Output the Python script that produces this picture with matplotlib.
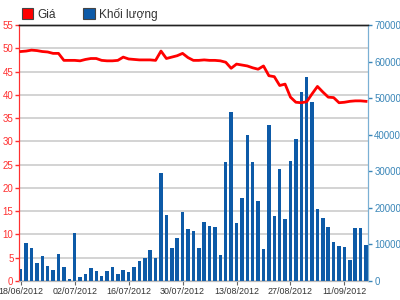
import numpy as np
import matplotlib
matplotlib.use('Agg')
import matplotlib.pyplot as plt
from matplotlib.patches import Patch

plt.rcParams['font.family'] = ['Liberation Sans', 'DejaVu Sans']

# ---- data ----
ngay = ['18/06/2012', '02/07/2012', '16/07/2012', '30/07/2012',
        '13/08/2012', '27/08/2012', '11/09/2012']

khoi_luong = [3390, 10310, 8910, 5030, 6750, 4070, 3050, 7250, 3820, 510,
              13110, 1150, 2040, 3690, 2800, 1460, 2800, 3950, 2040, 3050,
              2550, 3950, 5350, 6240, 8400, 6240, 29650, 18070, 8910, 11840,
              18960, 14250, 13670, 8940, 16040, 14940, 14670, 7100, 32620, 46300,
              15770, 22600, 39830, 32620, 21960, 8750, 42650, 17770, 30620, 16950,
              32900, 38740, 51760, 55690, 49030, 19690, 17220, 14670, 10750, 9570,
              9210, 5650, 14400, 14400, 9840]

gia = [49.3, 49.4, 49.6, 49.5, 49.3, 49.2, 48.9, 48.9, 47.4, 47.4,
       47.4, 47.3, 47.6, 47.8, 47.8, 47.4, 47.3, 47.3, 47.4, 48.1,
       47.7, 47.6, 47.5, 47.5, 47.5, 47.4, 49.4, 47.8, 48.1, 48.4,
       48.9, 48.0, 47.4, 47.4, 47.5, 47.4, 47.4, 47.3, 47.0, 45.7,
       46.6, 46.4, 46.2, 45.8, 45.5, 46.2, 44.1, 43.9, 42.0, 42.3,
       39.5, 38.4, 38.3, 38.5, 40.2, 41.8, 40.6, 39.5, 39.4, 38.3,
       38.4, 38.6, 38.7, 38.7, 38.6]

gia_ticks = np.arange(0, 56, 5)
kl_ticks = np.arange(0, 70001, 10000)

x = np.arange(len(gia))
do = '#ff0000'
xanh = '#0d5aa7'

fig = plt.figure(figsize=(4, 3), dpi=100)
ax = fig.add_axes([0.0475, 0.0633, 0.8725, 0.8534])
ax2 = ax.twinx()

# grid on the lower axes, bars and line on the upper one
ax.set_ylim(0, 55)
ax.set_yticks(gia_ticks)
ax.grid(axis='y', color='#d0d0d0', lw=1.3)
ax.set_axisbelow(True)

ax2.bar(x, khoi_luong, width=0.65, color=xanh, zorder=2)
ax2.plot(x, gia, color=do, lw=2.0, zorder=3, transform=ax.transData,
         solid_joinstyle='round')
ax2.set_ylim(0, 70000)
ax2.set_yticks(kl_ticks)
ax2.set_yticklabels([str(v) for v in kl_ticks])

ax.set_xlim(-0.32, 64.37)
ax.set_xticks(x[::10])
ax.set_xticklabels(ngay)

ax.tick_params(axis='y', colors='#ff3030', labelsize=7, length=3, width=1, pad=1)
ax2.tick_params(axis='y', colors='#3a86b8', labelsize=7, length=3, width=1, pad=1.5)
ax.tick_params(axis='x', colors='#666666', labelcolor='#333333', labelsize=6.4,
               length=3, width=0.8, pad=1)

for a in (ax, ax2):
    a.spines['left'].set_color('#ff3030')
    a.spines['right'].set_color('#7ab0d4')
    a.spines['top'].set_color('#222222')
    a.spines['bottom'].set_color('#bbbbbb')
    a.spines['top'].set_linewidth(1)

handles = [Patch(facecolor=do, edgecolor='#444444', lw=0.8),
           Patch(facecolor=xanh, edgecolor='#444444', lw=0.8)]
fig.legend(handles, ['Giá', 'Khối lượng'], loc='upper left',
           bbox_to_anchor=(0.028, 1.01), ncol=2, frameon=False,
           fontsize=8.6, handlelength=0.95, handleheight=0.95,
           handletextpad=0.35, columnspacing=2.3, labelcolor='#333333')

fig.savefig('out.png', dpi=100)
